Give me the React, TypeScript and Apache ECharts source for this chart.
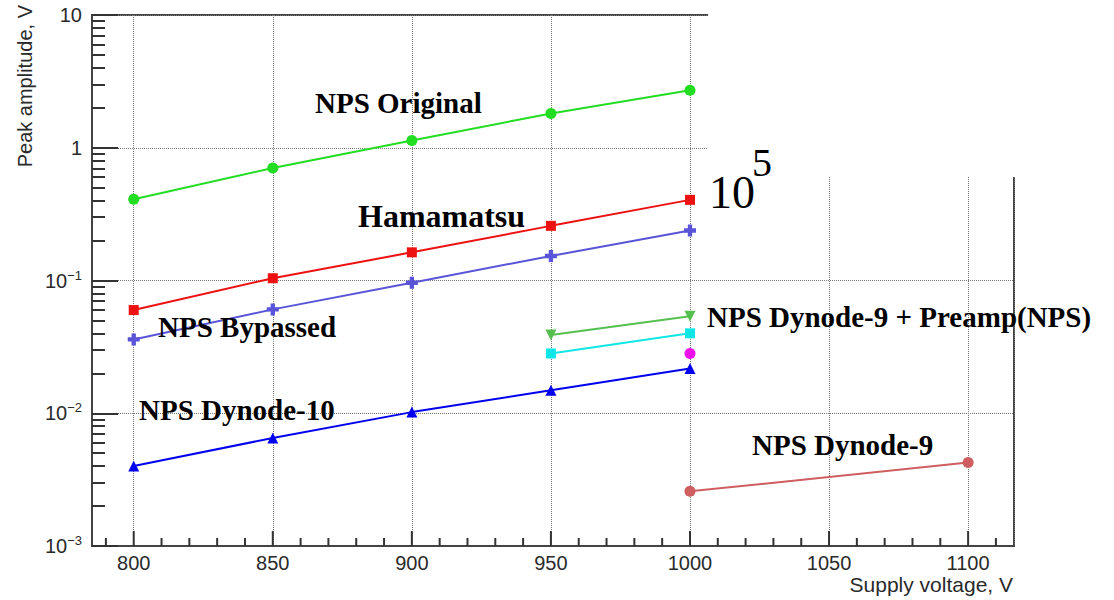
import React, { useEffect, useRef } from "react";
import * as echarts from "echarts";

// ---- data ----
const VOLTAGES = [800, 850, 900, 950, 1000];
const VOLTAGES_HIGH = [950, 1000];
const VOLTAGES_D9 = [1000, 1100];

const NPS_ORIGINAL = [0.41, 0.703, 1.135, 1.81, 2.71];
const HAMAMATSU = [0.0599, 0.104, 0.163, 0.258, 0.405];
const NPS_BYPASSED = [0.036, 0.0606, 0.0962, 0.153, 0.238];
const NPS_DYNODE10 = [0.004, 0.00651, 0.0102, 0.0149, 0.0217];
const NPS_D9_PREAMP = [0.0388, 0.0537];
const CYAN_SERIES = [0.0282, 0.04];
const MAGENTA_X = [1000];
const MAGENTA_SERIES = [0.0282];
const NPS_DYNODE9 = [0.00258, 0.00425];

const X_MAJOR_TICKS = [800, 850, 900, 950, 1000, 1050, 1100];
const X_MINOR_TICKS = [790, 810, 820, 830, 840, 860, 870, 880, 890, 910, 920, 930, 940, 960, 970, 980, 990, 1010, 1020, 1030, 1040, 1060, 1070, 1080, 1090, 1110];
const Y_DECADES = [-3, -2, -1, 0];
const Y_MINOR_MULT = [2, 3, 4, 5, 6, 7, 8, 9];
const Y_MIN = 0.001;
const Y_MAX = 10;

const CROSS = "path://M3.2,0 H6.8 V3.2 H10 V6.8 H6.8 V10 H3.2 V6.8 H0 V3.2 H3.2 Z";

const pairs = (xs: number[], ys: number[]) => xs.map((x, i) => [x, ys[i]]);

export default function App() {
  const ref = useRef<HTMLDivElement>(null);
  useEffect(() => {
    if (!ref.current) return;
    const chart = echarts.init(ref.current, undefined, { renderer: "svg" });
    const yMinor: number[] = [];
    Y_DECADES.forEach((d) => Y_MINOR_MULT.forEach((m) => yMinor.push(d + Math.log10(m))));
    const sans = "Liberation Sans, Arial, Helvetica, sans-serif";
    const serif = "Liberation Serif, Times New Roman, serif";
    const txt = "#2a2a2a";
    const axisColor = "#444";
    const tickStyle = { color: "#333", width: 2 };
    const line = (name: string, data: number[][], color: string, symbol: string, extra: any = {}) => ({
      name,
      type: "line",
      data,
      symbol,
      symbolSize: 11,
      showSymbol: true,
      lineStyle: { color, width: 2 },
      itemStyle: { color },
      z: 5,
      ...extra,
    });
    const xTicks = (name: string, values: number[], len: number) => ({
      name,
      type: "custom",
      silent: true,
      clip: false,
      z: 4,
      data: values.map((v) => [v, Y_MIN]),
      encode: { x: 0, y: 1 },
      renderItem: (_p: any, api: any) => {
        const pt = api.coord([api.value(0), Y_MIN]);
        return {
          type: "line",
          shape: { x1: pt[0], y1: pt[1], x2: pt[0], y2: pt[1] - len },
          style: { stroke: "#333", lineWidth: 2 },
        };
      },
    });
    const label = (text: string, x: number, y: number, size = 29) => ({
      type: "text",
      x,
      y,
      z: 120,
      style: {
        text,
        fill: "#000",
        font: `bold ${size}px ${serif}`,
        align: "left",
        verticalAlign: "middle",
      },
    });
    chart.setOption({
      animation: false,
      backgroundColor: "#fff",
      grid: {
        left: 92,
        right: 100,
        top: 15,
        bottom: 54,
        show: true,
        borderColor: axisColor,
        borderWidth: 2,
        backgroundColor: "transparent",
      },
      xAxis: [
        {
          type: "value",
          min: 785,
          max: 1116.5,
          position: "bottom",
          axisLine: { show: true, onZero: false, lineStyle: { color: axisColor, width: 2 } },
          axisTick: { show: false },
          axisLabel: { customValues: X_MAJOR_TICKS, color: txt, fontSize: 20, fontFamily: sans, margin: 7, formatter: (v: number) => String(v) },
          splitLine: { show: true, lineStyle: { type: "dotted", color: "#777", width: 1 } },
        },
      ],
      yAxis: [
        {
          type: "log",
          logBase: 10,
          min: Y_MIN,
          max: Y_MAX,
          position: "left",
          axisLine: { show: true, onZero: false, lineStyle: { color: axisColor, width: 2 } },
          axisTick: { show: true, inside: true, length: 26, lineStyle: tickStyle },
          axisLabel: {
            margin: 10,
            color: txt,
            fontFamily: sans,
            fontSize: 20,
            formatter: (v: number) => {
              const e = Math.round(Math.log10(v));
              if (e === 1) return "{b|10}";
              if (e === 0) return "{b|1}";
              return "{b|10}{s|\u2212" + Math.abs(e) + "}";
            },
            rich: {
              b: { fontSize: 20, lineHeight: 24, color: txt, fontFamily: sans },
              s: { fontSize: 13, lineHeight: 13, verticalAlign: "top", color: txt, fontFamily: sans },
            },
          },
          splitLine: { show: true, lineStyle: { type: "dotted", color: "#777", width: 1 } },
        },
        {
          type: "value",
          min: -3,
          max: 1,
          position: "left",
          axisLine: { show: false, onZero: false },
          axisTick: { show: true, inside: true, length: 13, customValues: yMinor, lineStyle: tickStyle },
          axisLabel: { show: false },
          splitLine: { show: false },
        },
      ],
      series: [
        xTicks("x major ticks", X_MAJOR_TICKS, 15),
        xTicks("x minor ticks", X_MINOR_TICKS, 8),
        line("NPS Original", pairs(VOLTAGES, NPS_ORIGINAL), "#22dd22", "circle"),
        line("Hamamatsu", pairs(VOLTAGES, HAMAMATSU), "#ee1111", "rect", { symbolSize: 10 }),
        line("NPS Bypassed", pairs(VOLTAGES, NPS_BYPASSED), "#5954d8", CROSS, { symbolSize: 12 }),
        line("NPS Dynode-10", pairs(VOLTAGES, NPS_DYNODE10), "#0000ee", "triangle"),
        line("NPS Dynode-9 + Preamp(NPS)", pairs(VOLTAGES_HIGH, NPS_D9_PREAMP), "#55c050", "triangle", { symbolRotate: 180 }),
        line("Cyan", pairs(VOLTAGES_HIGH, CYAN_SERIES), "#11e6e6", "rect", { symbolSize: 10 }),
        line("Magenta", pairs(MAGENTA_X, MAGENTA_SERIES), "#ee11ee", "circle"),
        line("NPS Dynode-9", pairs(VOLTAGES_D9, NPS_DYNODE9), "#cf5e61", "circle"),
      ],
      graphic: [
        { type: "rect", z: 100, shape: { x: 708, y: 0, width: 406, height: 177 }, style: { fill: "#fff" } },
        { type: "text", z: 110, x: 709, y: 192, style: { text: "10", fill: "#000", font: `46px ${serif}`, align: "left", verticalAlign: "middle" } },
        { type: "text", z: 110, x: 752, y: 162, style: { text: "5", fill: "#000", font: `40px ${serif}`, align: "left", verticalAlign: "middle" } },
        {
          type: "text",
          z: 110,
          x: 25,
          y: 5,
          rotation: Math.PI / 2,
          style: { text: "Peak amplitude, V", fill: txt, font: `20px ${sans}`, align: "right", verticalAlign: "middle" },
        },
        {
          type: "text",
          z: 110,
          x: 1013,
          y: 584,
          style: { text: "Supply voltage, V", fill: txt, font: `21px ${sans}`, align: "right", verticalAlign: "middle" },
        },
        label("NPS Original", 315, 103),
        label("Hamamatsu", 358, 216, 32),
        label("NPS Bypassed", 158, 327),
        label("NPS Dynode-10", 139, 410),
        label("NPS Dynode-9 + Preamp(NPS)", 707, 317),
        label("NPS Dynode-9", 752, 445),
      ],
    });
    return () => chart.dispose();
  }, []);
  return <div ref={ref} style={{ position: "absolute", left: 0, top: 0, width: 1114, height: 600 }} />;
}
